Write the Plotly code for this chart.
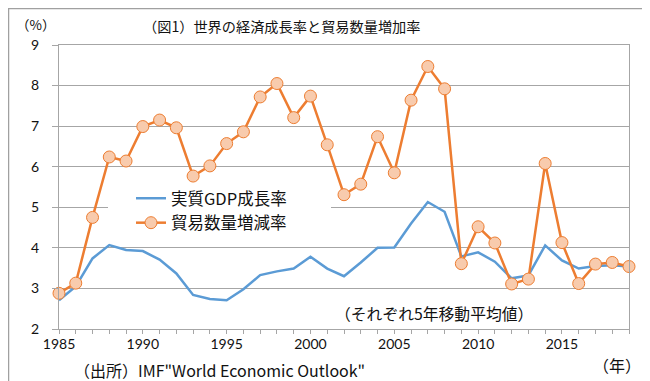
import plotly.graph_objects as go

years = list(range(1985, 2020))
gdp_growth = [2.71, 3.05, 3.74, 4.07, 3.95, 3.92, 3.71, 3.37, 2.84, 2.74,
              2.71, 2.98, 3.33, 3.42, 3.49, 3.78, 3.49, 3.30, 3.64, 4.00,
              4.01, 4.60, 5.13, 4.89, 3.79, 3.89, 3.66, 3.25, 3.32, 4.06,
              3.69, 3.49, 3.55, 3.57, 3.54]
trade_growth = [2.88, 3.13, 4.75, 6.24, 6.14, 6.99, 7.15, 6.96, 5.77, 6.02,
                6.57, 6.86, 7.72, 8.05, 7.21, 7.74, 6.54, 5.31, 5.57, 6.74,
                5.85, 7.64, 8.47, 7.92, 3.61, 4.52, 4.12, 3.11, 3.23, 6.08,
                4.13, 3.12, 3.60, 3.64, 3.54]
x_tick_vals = [1985, 1990, 1995, 2000, 2005, 2010, 2015]
y_tick_vals = [2, 3, 4, 5, 6, 7, 8, 9]

W, H = 650, 381
L, R, T, B = 51, 621, 37, 321


def px(p):
    return (p - L) / (R - L)


def py(p):
    return (B - p) / (B - T)


JP = "Noto Sans CJK JP, sans-serif"
NUM = "Lato, Noto Sans, sans-serif"
GRID = "#A6A6A6"
TXT = "#111111"

fig = go.Figure()
fig.add_trace(go.Scatter(
    x=years, y=gdp_growth, name="実質GDP成長率", mode="lines",
    line=dict(color="#5B9BD5", width=2.5), cliponaxis=False))
fig.add_trace(go.Scatter(
    x=years, y=trade_growth, name="貿易数量増減率", mode="lines+markers",
    line=dict(color="#ED7D31", width=2.5),
    marker=dict(size=12, color="#F8CBAD", line=dict(color="#ED7D31", width=1)),
    cliponaxis=False))

fig.update_layout(
    width=W, height=H,
    margin=dict(l=L, r=W - R, t=T, b=H - B, pad=0),
    paper_bgcolor="white", plot_bgcolor="white",
    showlegend=True,
    legend=dict(x=px(123), y=py(173), xanchor="left", yanchor="top",
                bgcolor="rgba(0,0,0,0)", font=dict(family=JP, size=16.5, color=TXT),
                itemwidth=30, tracegroupgap=0),
    xaxis=dict(range=[1985, 2019], tickmode="array", tickvals=x_tick_vals,
               ticktext=[str(v) for v in x_tick_vals],
               showgrid=False, zeroline=False,
               showline=True, linecolor=GRID, linewidth=1, mirror=True,
               ticks="outside", ticklen=4, tickcolor=GRID, tickwidth=1,
               ticklabelstandoff=-2,
               minor=dict(dtick=1, ticks="outside", ticklen=4, tickcolor=GRID, showgrid=False),
               tickfont=dict(family=NUM, size=14, color=TXT)),
    yaxis=dict(range=[2, 9], tickmode="array", tickvals=y_tick_vals,
               showgrid=True, gridcolor=GRID, gridwidth=1, zeroline=False,
               showline=True, linecolor=GRID, linewidth=1, mirror=True,
               ticks="outside", ticklen=6, tickcolor=GRID, tickwidth=1,
               ticklabelstandoff=10,
               tickfont=dict(family=NUM, size=14, color=TXT)),
    shapes=[
        dict(type="rect", xref="paper", yref="paper",
             x0=px(100), x1=px(323), y0=py(233), y1=py(186),
             fillcolor="white", line=dict(width=0), layer="above"),
        dict(type="rect", xref="paper", yref="paper",
             x0=px(0.5), x1=px(649.5), y0=py(380.5), y1=py(0.5),
             fillcolor="rgba(0,0,0,0)", line=dict(color="#A0A0A0", width=1.5)),
    ],
    annotations=[
        dict(text="（図1）世界の経済成長率と貿易数量増加率", xref="paper", yref="paper",
             x=px(273), y=py(18), xanchor="center", yanchor="middle", showarrow=False,
             font=dict(family=JP, size=14.2, color=TXT)),
        dict(text="（%）", xref="paper", yref="paper",
             x=px(27), y=py(16), xanchor="center", yanchor="middle", showarrow=False,
             font=dict(family=JP, size=13.5, color=TXT)),
        dict(text="（それぞれ5年移動平均値）", xref="paper", yref="paper",
             x=px(426), y=py(305), xanchor="center", yanchor="middle", showarrow=False,
             font=dict(family=JP, size=15.8, color=TXT)),
        dict(text="（出所）IMF\"World Economic Outlook\"", xref="paper", yref="paper",
             x=px(64), y=py(362), xanchor="left", yanchor="middle", showarrow=False,
             font=dict(family=JP, size=16, color=TXT)),
        dict(text="（年）", xref="paper", yref="paper",
             x=px(609), y=py(357), xanchor="center", yanchor="middle", showarrow=False,
             font=dict(family=JP, size=16, color=TXT)),
    ],
)

fig.write_html("out.html")
